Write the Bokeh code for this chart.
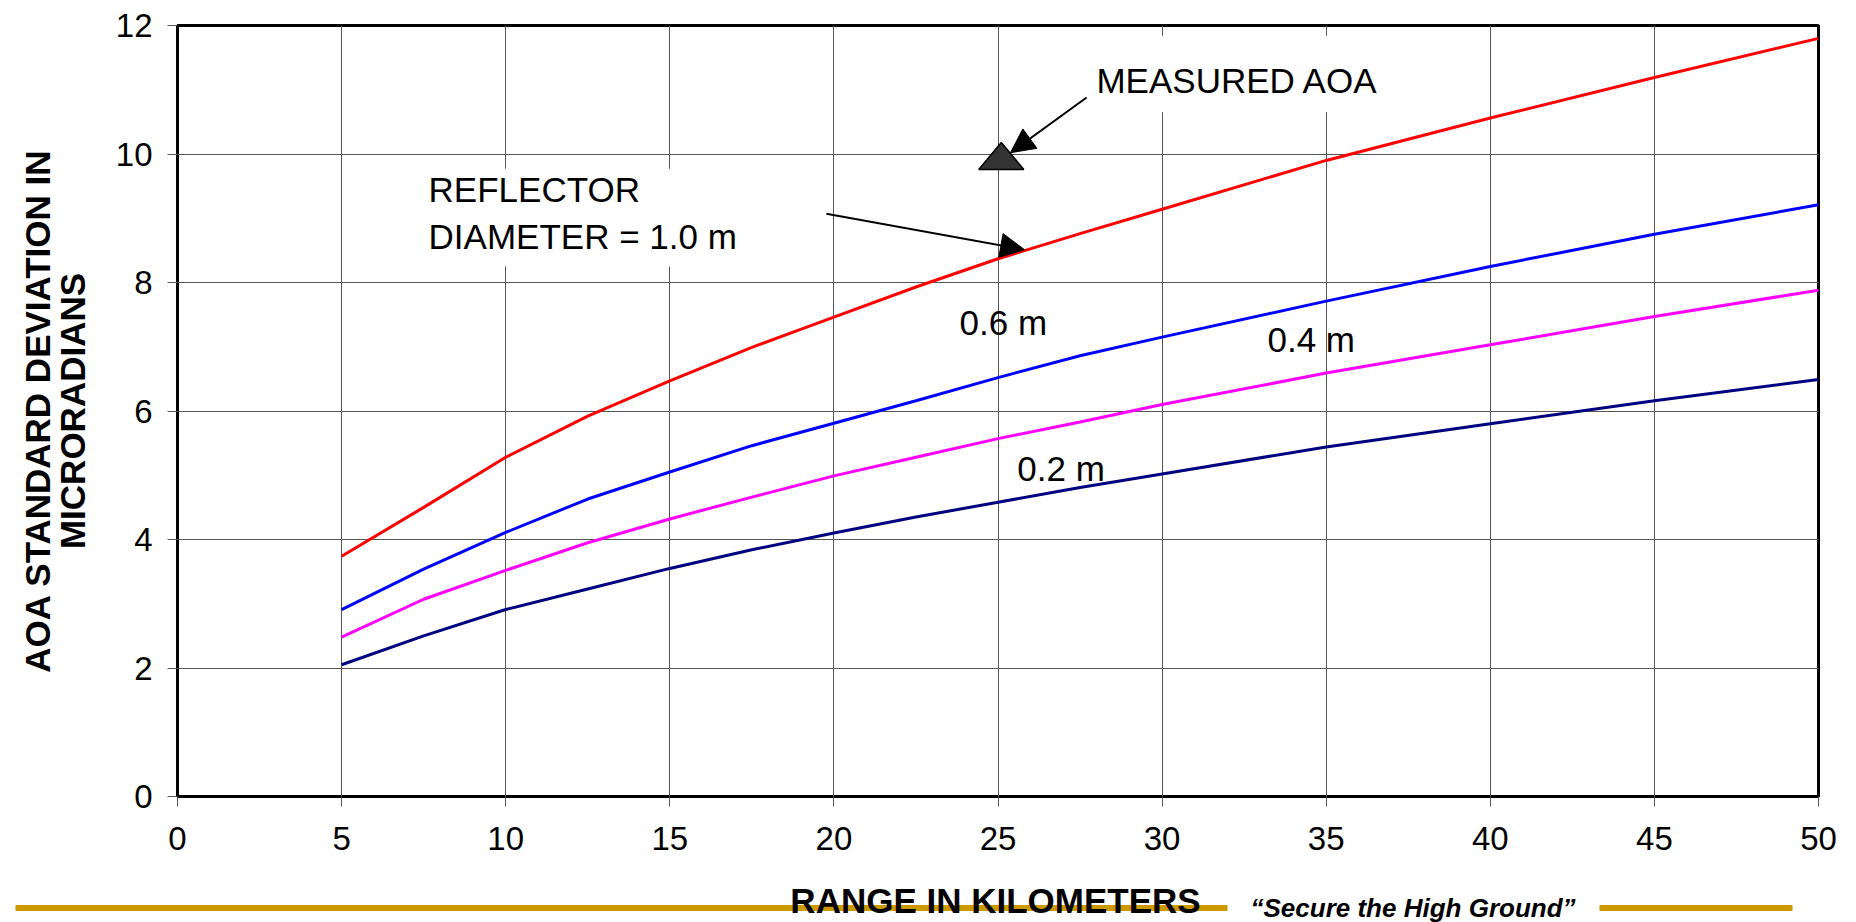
from bokeh.plotting import figure
from bokeh.models import (Range1d, FixedTicker, Label, Arrow, NormalHead, LinearAxis,
                          BoxAnnotation, GlobalInlineStyleSheet)
from bokeh.core.properties import value
from bokeh.embed import file_html
from bokeh.resources import INLINE

# ---------------- data ----------------
range_km = [5, 7.5, 10, 12.5, 15, 17.5, 20, 22.5, 25, 27.5, 30, 35, 40, 45, 50]
d_1_0 = [3.74, 4.50, 5.28, 5.92, 6.47, 6.99, 7.46, 7.93, 8.37, 8.76, 9.14, 9.90, 10.56, 11.19, 11.80]
d_0_6 = [2.91, 3.54, 4.11, 4.63, 5.05, 5.46, 5.81, 6.16, 6.52, 6.86, 7.15, 7.71, 8.25, 8.75, 9.21]
d_0_4 = [2.48, 3.07, 3.52, 3.95, 4.32, 4.66, 4.99, 5.28, 5.57, 5.83, 6.10, 6.59, 7.03, 7.47, 7.88]
d_0_2 = [2.05, 2.50, 2.91, 3.23, 3.55, 3.84, 4.10, 4.35, 4.58, 4.81, 5.02, 5.44, 5.80, 6.16, 6.49]
measured_x = [25.1]
measured_y = [9.97]
x_ticks = [0, 5, 10, 15, 20, 25, 30, 35, 40, 45, 50]
y_ticks = [0, 2, 4, 6, 8, 10, 12]

FONT = "Liberation Sans"
TXT_DY = 12.0 / 64.25   # text baseline compensation (data units)

p = figure(width=1850, height=870, x_range=Range1d(0, 50), y_range=Range1d(0, 12),
           output_backend="svg", toolbar_location=None,
           min_border_left=177, min_border_right=32, min_border_top=25, min_border_bottom=74,
           stylesheets=[GlobalInlineStyleSheet(css="html, body { overflow: hidden; }")])
p.background_fill_color = "white"
p.border_fill_color = "white"
p.outline_line_color = "black"
p.outline_line_width = 3

p.xaxis.ticker = FixedTicker(ticks=x_ticks)
p.yaxis.ticker = FixedTicker(ticks=y_ticks)
for ax in (p.xaxis[0], p.yaxis[0]):
    ax.axis_line_color = None
    ax.major_tick_line_color = "#555555"
    ax.major_tick_line_width = 1
    ax.major_tick_out = 10
    ax.major_tick_in = 0
    ax.minor_tick_line_color = None
    ax.major_label_text_font = FONT
    ax.major_label_text_font_size = "33px"
    ax.major_label_text_color = "black"
p.xaxis.major_label_standoff = 20
p.yaxis.major_label_standoff = 15

p.yaxis.axis_label = "MICRORADIANS"
p.yaxis.axis_label_text_font = FONT
p.yaxis.axis_label_text_font_style = "bold"
p.yaxis.axis_label_text_font_size = "35px"
p.yaxis.axis_label_text_color = "black"
p.yaxis.axis_label_standoff = 21

outer = LinearAxis(ticker=FixedTicker(ticks=[]), axis_label="AOA STANDARD DEVIATION IN",
                   axis_line_color=None, major_tick_line_color=None, minor_tick_line_color=None,
                   major_tick_out=0, major_tick_in=0, minor_tick_out=0, minor_tick_in=0,
                   major_label_standoff=0, major_label_text_font_size="0px",
                   axis_label_standoff=-7, axis_label_text_font=FONT,
                   axis_label_text_font_style="bold", axis_label_text_font_size="35px",
                   axis_label_text_color="black")
p.add_layout(outer, "left")

p.grid.grid_line_color = "#555555"
p.grid.grid_line_width = 1

# white boxes behind annotation texts
p.add_layout(BoxAnnotation(left=6.98, right=17.2, bottom=8.25, top=9.77,
                           fill_color="white", fill_alpha=1, line_color=None))
p.add_layout(BoxAnnotation(left=27.7, right=36.8, bottom=10.65, top=11.84,
                           fill_color="white", fill_alpha=1, line_color=None))

for ys, col in [(d_0_2, "#000080"), (d_0_4, "#FF00FF"), (d_0_6, "#0000FF"), (d_1_0, "#FF0000")]:
    p.line(range_km, ys, line_color=col, line_width=3)

# measured AOA triangle marker (squat triangle around the measured point)
hw, hh = 0.686, 0.21
tri_x = [[mx - hw, mx + hw, mx] for mx in measured_x]
tri_y = [[my - hh, my - hh, my + hh] for my in measured_y]
p.patches(tri_x, tri_y, fill_color="#333333", line_color="black", line_width=1.5)

def lab(x, y, t):
    p.add_layout(Label(x=x, y=y + TXT_DY, text=t, text_font=FONT, text_font_size="35px",
                       text_color="black", text_align="left", text_baseline="alphabetic"))

lab(28.0, 10.95, "MEASURED AOA")
lab(7.65, 9.26, "REFLECTOR")
lab(7.65, 8.53, "DIAMETER = 1.0 m")
lab(23.83, 7.19, "0.6 m")
lab(33.21, 6.92, "0.4 m")
lab(25.59, 4.92, "0.2 m")

p.add_layout(Arrow(end=NormalHead(size=24, fill_color="black", line_color="black"),
                   x_start=27.70, y_start=10.88, x_end=25.38, y_end=10.02,
                   line_color="black", line_width=2))
p.add_layout(Arrow(end=NormalHead(size=24, fill_color="black", line_color="black"),
                   x_start=19.77, y_start=9.07, x_end=25.81, y_end=8.51,
                   line_color="black", line_width=2))

# ---------------- bottom banner (separate root) ----------------
banner = figure(width=1850, height=52, x_range=Range1d(0, 1850), y_range=Range1d(0, 52),
                output_backend="svg", toolbar_location=None,
                x_axis_type=None, y_axis_type=None,
                min_border_left=0, min_border_right=0, min_border_top=0, min_border_bottom=0)
banner.grid.visible = False
banner.outline_line_color = None
banner.background_fill_color = "white"
banner.border_fill_color = "white"
banner.segment(x0=[15, 1599], y0=[14.5, 14.5], x1=[1227, 1792], y1=[14.5, 14.5],
               line_color="#CC9900", line_width=6, line_cap="butt")
banner.text(x=[995], y=[22.5], text=["RANGE IN KILOMETERS"], text_font=value(FONT),
            text_font_style="bold", text_font_size="35px", text_color="black",
            text_align="center", text_baseline="alphabetic")
banner.text(x=[1250], y=[14.5], text=["\u201cSecure the High Ground\u201d"], text_font=value(FONT),
            text_font_style="bold italic", text_font_size="26px", text_color="black",
            text_align="left", text_baseline="alphabetic")

open("out.html", "w").write(file_html([p, banner], INLINE))
